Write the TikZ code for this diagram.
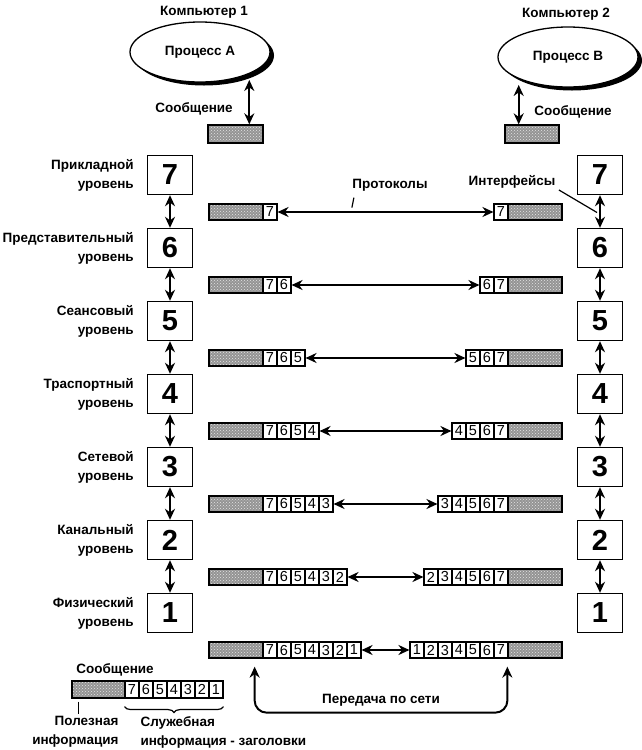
\documentclass[tikz,border=0pt]{standalone}
\usepackage{fontspec}
\setmainfont{Liberation Sans}
\usetikzlibrary{positioning,shapes.geometric,shadows,arrows.meta,calc,decorations.pathreplacing,patterns}

\begin{document}
\begin{tikzpicture}[x=1pt,y=-1pt,
        lbl/.style={font=\fontsize{13.5}{19}\selectfont\bfseries},
        layerbox/.style={draw,line width=1.4pt,minimum width=45pt,minimum height=39pt,inner sep=0pt,
            font=\fontsize{29}{29}\selectfont\bfseries},
        datablk/.style={draw,line width=1.3pt,minimum width=54pt,minimum height=16pt,inner sep=0pt,
            preaction={fill=black!42},pattern=crosshatch dots,pattern color=white!90!black},
        hdr/.style={draw,line width=1.1pt,fill=white,minimum width=14pt,minimum height=16pt,inner sep=0pt,
            font=\fontsize{14.5}{14.5}\selectfont},
        arr/.style={{Stealth[length=11pt,width=10pt]}-{Stealth[length=11pt,width=10pt]},line width=2pt},
        proc/.style={ellipse,draw,line width=1.3pt,fill=white,minimum width=140pt,minimum height=60pt,
            drop shadow={fill=black,opacity=1,shadow xshift=4pt,shadow yshift=-3.5pt},lbl}]

    \useasboundingbox (0,0) rectangle (642,750);

    % computers and processes
    \node[lbl] (comp1) at (204,12) {Компьютер 1};
    \node[proc] (procA) at (200,52) {Процесс А};
    \node[datablk,minimum width=55pt,minimum height=18pt] (msgA) at (235.5,134) {};
    \draw[arr] ([yshift=-6pt]procA.-24) -- (procA.-24 |- msgA.north);
    \node[lbl] (txtA) at (194,109) {Сообщение};

    \node[lbl] (comp2) at (566,14) {Компьютер 2};
    \node[proc] (procB) at (568,57) {Процесс В};
    \node[datablk,minimum height=18pt] (msgB) at (532,134) {};
    \draw[arr] ([yshift=-6pt]procB.204) -- (procB.204 |- msgB.north);
    \node[lbl] (txtB) at (573,112) {Сообщение};

    % layers
    \foreach \lvl in {7,...,1}{
        \node[layerbox] (L\lvl) at (170,{175+73*(7-\lvl)}) {\lvl};
        \node[layerbox] (R\lvl) at (600,{175+73*(7-\lvl)}) {\lvl};
    }
    \node[lbl,align=right,left=9.5pt of L7] {Прикладной\\уровень};
    \node[lbl,align=right,left=9.5pt of L6] {Представительный\\уровень};
    \node[lbl,align=right,left=9.5pt of L5] {Сеансовый\\уровень};
    \node[lbl,align=right,left=9.5pt of L4] {Траспортный\\уровень};
    \node[lbl,align=right,left=9.5pt of L3] {Сетевой\\уровень};
    \node[lbl,align=right,left=9.5pt of L2] {Канальный\\уровень};
    \node[lbl,align=right,left=9.5pt of L1] {Физический\\уровень};

    \foreach \a/\b in {7/6,6/5,5/4,4/3,3/2,2/1}{
        \draw[arr] (L\a) -- (L\b);
        \draw[arr] (R\a) -- (R\b);
    }

    % packets with headers
    \foreach \lvl in {7,...,1}{
        \pgfmathsetmacro\ry{212+73*(7-\lvl)}
        \node[datablk] (ls\lvl) at (236,\ry) {};
        \foreach \d in {7,...,\lvl}
            \node[hdr] (lc\lvl\d) at ({270+14*(7-\d)},\ry) {\d};
        \node[datablk] (rs\lvl) at (535,\ry) {};
        \foreach \d in {\lvl,...,7}
            \node[hdr] (rc\lvl\d) at ({501-14*(7-\d)},\ry) {\d};
        \draw[arr] (lc\lvl\lvl.east) -- (rc\lvl\lvl.west);
    }

    \node[lbl] (proto) at (390,185) {Протоколы};
    \draw[line width=1.2pt] ([xshift=5pt,yshift=-3pt]proto.south west) -- ++(-2,10);
    \node[lbl] (iface) at (512,182) {Интерфейсы};
    \draw[line width=1.2pt] ([yshift=2pt]iface.south east) -- ($(R7.south)!.5!(R6.north)+(-3,1)$);

    % transfer over the network
    \draw[arr,rounded corners=12pt] ([xshift=-9pt,yshift=-8pt]ls1.south east) -- ++(0,46)
        -| ([yshift=-8pt]rs1.south west);
    \node[lbl] (net) at (381,700) {Передача по сети};

    % legend
    \node[lbl] (legmsg) at (115,670) {Сообщение};
    \node[datablk,minimum width=53pt,minimum height=17pt] (pay) at (98.5,689.5) {};
    \foreach \d in {7,...,1}
        \node[hdr,minimum height=17pt] (k\d) at ({132+14*(7-\d)},689.5) {\d};
    \draw[line width=1.2pt] ([xshift=7pt,yshift=-3pt]pay.south west) -- ++(0,12);
    \draw[decorate,decoration={brace,amplitude=6pt,mirror},line width=1.2pt]
        ([yshift=-8pt]k7.south west) -- ([yshift=-8pt]k1.south east);
    \node[lbl,align=right,anchor=north east] (useful) at (122,713) {Полезная\\информация};
    \node[lbl,align=left,anchor=north west] (service) at (137,713) {Служебная\\информация - заголовки};
\end{tikzpicture}
\end{document}
